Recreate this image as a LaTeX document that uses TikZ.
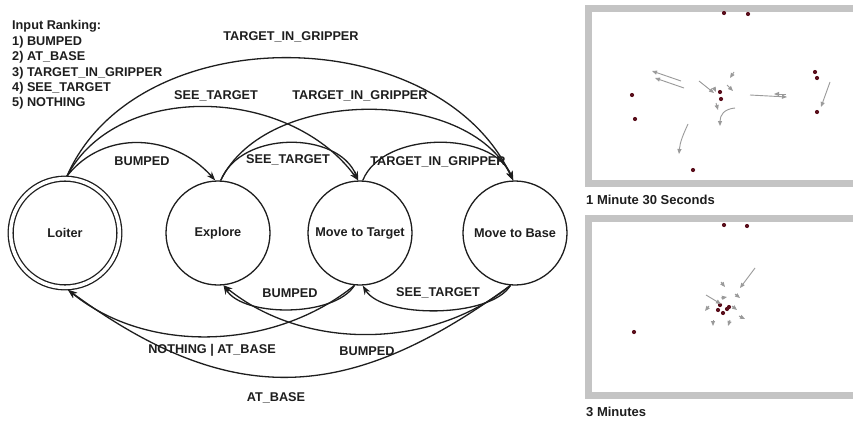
\documentclass[tikz,border=0pt]{standalone}
\usepackage{fontspec}
\setmainfont{Liberation Sans}
\usetikzlibrary{arrows.meta}
\newcommand\lblfont{\fontsize{12.7}{15.4}\selectfont\bfseries}
\newcommand\capfont{\fontsize{13}{15}\selectfont\bfseries}
\definecolor{ink}{HTML}{1E1E1E}
\definecolor{framegray}{HTML}{C4C4C4}
\definecolor{dotred}{HTML}{5A0F1C}
\definecolor{trail}{HTML}{9A9A9A}
\begin{document}
\begin{tikzpicture}[x=1pt,y=-1pt,
  state/.style={circle, draw=ink, line width=1.3pt, minimum size=104pt, inner sep=0pt, font=\lblfont, text=ink},
  edge/.style={draw=ink, line width=1.3pt, -{Stealth[length=9pt,width=6.5pt]}},
  lab/.style={font=\lblfont, inner sep=0pt, text=ink},
  robot/.style={draw=trail, line width=0.9pt, -{Triangle[length=5pt,width=4pt]}},
  head/.style={fill=trail}]
\useasboundingbox (0,0) rectangle (853,421);
\fill[white] (0,0) rectangle (853,421);

% legend
\node[lab, anchor=north west, align=left] (rank) at (12,20.5)
  {Input Ranking:\\1) BUMPED\\2) AT\_BASE\\3) TARGET\_IN\_GRIPPER\\4) SEE\_TARGET\\5) NOTHING};

% states
\node[state, double, double distance=3.6pt, minimum size=108.7pt, outer sep=2.6pt] (lo) at (65,233) {Loiter};
\node[state] (ex) at (218,233) {Explore};
\node[state] (mt) at (360,233) {Move to Target};
\node[state] (mb) at (515,233) {Move to Base};

% upper transitions
\draw[edge] (lo.88) .. controls +(37,-47) and +(-42,-47) .. (ex.93);
\draw[edge] (lo.88) .. controls +(50,-95) and +(-70,-95) .. (mt.92);
\draw[edge] (lo.88) .. controls +(70,-160) and +(-75,-160) .. (mb.92);
\draw[edge] (ex.87) .. controls +(20,-50) and +(-20,-50) .. (mt.92);
\draw[edge] (ex.87) .. controls +(45,-94) and +(-45,-94) .. (mb.92);
\draw[edge] (mt.87) .. controls +(20,-50) and +(-20,-50) .. (mb.92);

% lower transitions
\draw[edge] (mt.264) .. controls +(-20,32) and +(20,32) .. (ex.276);
\draw[edge] (mb.265) .. controls +(-20,33) and +(20,33) .. (mt.273);
\draw[edge] (mt.264) .. controls +(-80,65) and +(80,65) .. (lo.273);
\draw[edge] (mb.265) .. controls +(-80,65) and +(80,65) .. (ex.276);
\draw[edge] (mb.265) .. controls +(-163,119) and +(163,119) .. (lo.273);

% edge labels
\node[lab] (l1) at (291,37) {TARGET\_IN\_GRIPPER};
\node[lab] (l2) at (216,96) {SEE\_TARGET};
\node[lab] (l3) at (360,96) {TARGET\_IN\_GRIPPER};
\node[lab] (l4) at (142,161) {BUMPED};
\node[lab] (l5) at (288,160) {SEE\_TARGET};
\node[lab] (l6) at (438,162) {TARGET\_IN\_GRIPPER};
\node[lab] (l7) at (290,293) {BUMPED};
\node[lab] (l8) at (438,293) {SEE\_TARGET};
\node[lab] (l9) at (212,350) {NOTHING | AT\_BASE};
\node[lab] (l10) at (367,351) {BUMPED};
\node[lab] (l11) at (276,398) {AT\_BASE};

% simulation snapshots
\fill[framegray] (585,5) rectangle (853,187);
\fill[white] (592,12) rectangle (853,180);
\fill[framegray] (585,215) rectangle (853,399);
\fill[white] (592,222) rectangle (853,392);

\node[font=\capfont, text=ink, anchor=west, inner sep=0pt] (c1) at (586,200) {1 Minute 30 Seconds};
\node[font=\capfont, text=ink, anchor=west, inner sep=0pt] (c2) at (586,412) {3 Minutes};

% top snapshot: pucks
\foreach \p in {(724,13),(748,14),(815,72),(817,78),(632,95),(720,92),(721,99),(635,119),(817,112),(693,170)}
  \fill[dotred] \p circle (2.1);
% top snapshot: robots
\draw[robot] (681,81) -- (652,71);
\draw[robot] (684,88) -- (655,78);
\draw[robot] (699,81) -- (714,93);
\draw[robot] (734,72) -- (730,78);
\draw[robot] (727,85) -- (733,91);
\draw[robot] (750,95) -- (787,97);
\draw[robot] (786,94) -- (774,94);
\draw[robot] (830,82) -- (821,107);
\draw[robot] (688,124) .. controls (683,135) and (680,142) .. (679,154);
\draw[robot] (735,108) .. controls (724,109) and (720,115) .. (720,126);
\draw[robot] (716,103) -- (718,110);
\draw[robot] (714,88) -- (716,92);

% bottom snapshot: pucks
\foreach \p in {(724,225),(747,226),(634,332),(720,305),(718,310),(723,313),(727,309),(729,307)}
  \fill[dotred] \p circle (2.1);
% bottom snapshot: robots
\draw[robot] (755,268) -- (740,288);
\draw[robot] (706,295) -- (721,304);
\draw[robot] (721,282) -- (725,287);
\draw[robot] (721,298) -- (727,297);
\draw[robot] (735,294) -- (740,298);
\draw[robot] (709,306) -- (705,311);
\draw[robot] (713,320) -- (713,326);
\draw[robot] (730,320) -- (728,326);
\draw[robot] (739,316) -- (745,319);
\draw[robot] (732,306) -- (737,310);
\end{tikzpicture}
\end{document}
